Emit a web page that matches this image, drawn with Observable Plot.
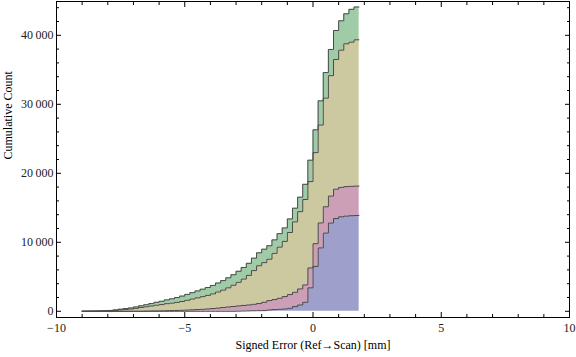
<!DOCTYPE html>
<html>
<head>
<meta charset="utf-8">
<script src="https://cdn.jsdelivr.net/npm/d3@7"></script>
<script src="https://cdn.jsdelivr.net/npm/@observablehq/plot@0.6"></script>
<style>
  html, body { margin: 0; padding: 0; background: #fff; }
  #chart { width: 576px; height: 357px; }
</style>
</head>
<body>
<div id="chart"></div>
<script>
// Bin edges (mm); each value holds from its edge to the next edge.
const edges = [-9, -8.8, -8.6, -8.4, -8.2, -8, -7.8, -7.6, -7.4, -7.2, -7, -6.8, -6.6, -6.4, -6.2, -6,
  -5.8, -5.6, -5.4, -5.2, -5, -4.8, -4.6, -4.4, -4.2, -4, -3.8, -3.6, -3.4, -3.2, -3, -2.8, -2.6, -2.4,
  -2.2, -2, -1.8, -1.6, -1.4, -1.2, -1, -0.8, -0.6, -0.4, -0.2, 0, 0.2, 0.4, 0.6, 0.8, 1, 1.2, 1.4, 1.6, 1.8];

// Cumulative counts per bin for each series (bottom to top of the stack)
const seriesNames = ["Series 1", "Series 2", "Series 3", "Series 4"];
const series1 = [0, 0, 0, 0, 0, 0, 0, 0, 0, 0, 0, 0, 0, 0, 0, 0, 0, 0, 0, 0, 0, 0, 0, 0, 0, 0, 0, 0, 0, 0,
  20, 40, 60, 80, 90, 100, 200, 250, 300, 340, 440, 680, 920, 1310, 3400, 6500, 9190, 11340, 12790, 13440,
  13700, 13800, 13850, 13880];
const series2 = [0, 0, 0, 0, 0, 0, 0, 0, 0, 0, 0, 0,
  30, 40, 50, 60, 80, 100, 120, 150, 180, 210, 250, 290, 340, 400, 470, 550, 630, 700,
  760, 810, 860, 940, 1030, 1210, 1350, 1450, 1590, 1790, 1980, 2080, 2320, 2510, 2890, 3300, 3620, 3810,
  3910, 4260, 4260, 4265, 4270, 4270];
const series3 = [10, 15, 25, 35, 60, 80, 140, 210, 270, 330, 430, 550,
  620, 730, 830, 910, 1020, 1080, 1170, 1270, 1420, 1570, 1700, 1830, 1960, 2120, 2330, 2520, 2770, 3080,
  3420, 3820, 4280, 4880, 5480, 5740, 6000, 6700, 7410, 8000, 9000, 10200, 11200, 12380, 12510, 13200,
  14190, 15750, 17450, 18800, 19890, 20705, 20890, 21200];
const series4 = [5, 8, 10, 15, 20, 40, 60, 90, 120, 160, 200, 250,
  300, 350, 420, 480, 550, 620, 700, 780, 850, 920, 1000, 1080, 1150, 1230, 1300, 1380, 1450, 1520,
  1600, 1680, 1750, 1800, 1880, 1950, 1950, 1950, 1950, 1950, 1960, 1980, 2100, 2200, 3100, 3300, 3500,
  3700, 3800, 4200, 4250, 4350, 4750, 4750];
const seriesColors = ["#9f9fcc", "#cc9fb6", "#ccc8a0", "#9fcca6"];

// Axis ticks and labels
const xMajor = [-10, -5, 0, 5, 10];
const xMajorLabels = ["\u221210", "\u22125", "0", "5", "10"];
const xMinor = [-9, -8, -7, -6, -4, -3, -2, -1, 1, 2, 3, 4, 6, 7, 8, 9];
const yMajor = [0, 10000, 20000, 30000, 40000];
const yMajorLabels = ["0", "10\u2009000", "20\u2009000", "30\u2009000", "40\u2009000"];
const yMinor = [2000, 4000, 6000, 8000, 12000, 14000, 16000, 18000, 22000, 24000, 26000, 28000,
  32000, 34000, 36000, 38000, 42000, 44000];
const xTitle = "Signed Error (Ref\u2192Scan) [mm]";
const yTitle = "Cumulative Count";

// Long-format table for the library (last edge closes the final step)
const allSeries = [series1, series2, series3, series4];
const rows = [];
allSeries.forEach((vals, s) => {
  edges.forEach((x, j) => {
    rows.push({series: seriesNames[s], x, count: vals[Math.min(j, vals.length - 1)]});
  });
});

const none = () => "";
const plot = Plot.plot({
  width: 576,
  height: 357,
  marginLeft: 56,
  marginRight: 7,
  marginTop: 1,
  marginBottom: 40,
  x: {domain: [-10, 10], label: null},
  y: {domain: [-900, 44900], label: null},
  color: {domain: seriesNames, range: seriesColors},
  style: {fontFamily: "'Liberation Serif', 'DejaVu Serif', serif", fontSize: "12px", background: "#fff", color: "#000"},
  marks: [
    Plot.areaY(rows, Plot.stackY({x: "x", y: "count", z: "series", fill: "series", curve: "step-after", order: null})),
    Plot.lineY(rows, Plot.stackY2({x: "x", y: "count", z: "series", curve: "step-after", order: null,
      stroke: "#4a4a4a", strokeWidth: 1})),
    Plot.frame({stroke: "#000", strokeWidth: 1}),
    // inward ticks on all four sides
    Plot.axisX(xMajor, {anchor: "bottom", tickSize: -5, tickFormat: none, label: null}),
    Plot.axisX(xMinor, {anchor: "bottom", tickSize: -3, tickFormat: none, label: null}),
    Plot.axisX(xMajor, {anchor: "top", tickSize: -5, tickFormat: none, label: null}),
    Plot.axisX(xMinor, {anchor: "top", tickSize: -3, tickFormat: none, label: null}),
    Plot.axisY(yMajor, {anchor: "left", tickSize: -5, tickFormat: none, label: null}),
    Plot.axisY(yMinor, {anchor: "left", tickSize: -3, tickFormat: none, label: null}),
    Plot.axisY(yMajor, {anchor: "right", tickSize: -5, tickFormat: none, label: null}),
    Plot.axisY(yMinor, {anchor: "right", tickSize: -3, tickFormat: none, label: null}),
    // tick labels
    Plot.axisX(xMajor, {anchor: "bottom", tickSize: 0, tickPadding: 6, fill: "#222",
      tickFormat: d => xMajorLabels[xMajor.indexOf(d)], label: null}),
    Plot.axisY(yMajor, {anchor: "left", tickSize: 0, tickPadding: 3, fill: "#222",
      tickFormat: d => yMajorLabels[yMajor.indexOf(d)], label: null}),
    // axis titles
    Plot.text([xTitle], {frameAnchor: "bottom", dy: 31, fill: "#000"}),
    Plot.text([yTitle], {frameAnchor: "left", dx: -48, rotate: -90, fill: "#000"})
  ]
});
document.getElementById("chart").appendChild(plot);
</script>
</body>
</html>
